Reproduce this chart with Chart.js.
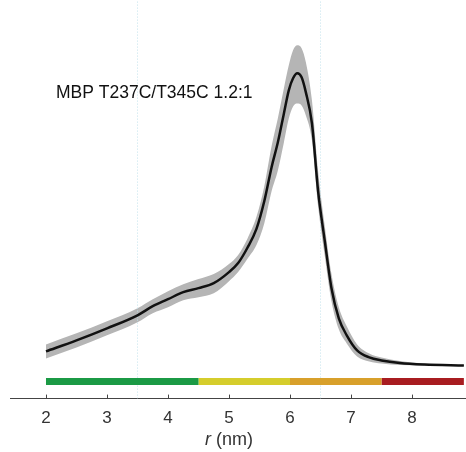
<!DOCTYPE html>
<html>
<head>
<meta charset="utf-8">
<script src="https://cdn.jsdelivr.net/npm/chart.js@4/dist/chart.umd.min.js"></script>
<style>
  html, body { margin: 0; padding: 0; background: #fff; }
  #wrap { width: 466px; height: 452px; }
</style>
</head>
<body>
<div id="wrap"><canvas id="dist" width="466" height="452"></canvas></div>
<script>
// distance distribution (arbitrary units)
var rValues = [2.0, 2.5, 3.0, 3.5, 3.75, 4.0, 4.25, 4.5, 4.75, 5.0,
               5.15, 5.3, 5.45, 5.58, 5.7, 5.8, 5.9, 5.98, 6.05, 6.12,
               6.19, 6.26, 6.36, 6.46, 6.57, 6.68, 6.8, 6.93, 7.1, 7.3,
               7.5, 7.8, 8.2, 8.85];
var meanValues = [47, 58, 70, 83, 92, 99, 106, 110, 115, 126,
                  135, 150, 169, 197, 231, 255, 284, 307, 319, 324,
                  320, 305, 274, 207, 157, 110, 80, 63, 48, 41,
                  38, 35.5, 34, 33];
var upperValues = [54, 65, 77, 90, 99, 107, 114, 119, 124, 134,
                   143, 159, 181, 212, 252, 279, 309, 332, 347, 352,
                   349, 335, 297, 227, 172, 124, 91, 72, 54, 45,
                   41, 37.5, 35, 33.5];
var lowerValues = [40, 51, 63, 76, 85, 91, 98, 101, 105, 117,
                   126, 139, 153, 175, 207, 227, 255, 279, 291, 294,
                   292, 282, 257, 192, 142, 97, 69, 55, 42, 37,
                   35, 33.5, 33, 32.5];

// reliability ranges shown as the coloured bar
var barEdges = [2, 4.5, 6, 7.5, 8.85];
var barColors = ['#1b9a45', '#d5cd2c', '#d8a02b', '#a81c20'];
var barLevel = 17;

var markerR = [3.5, 6.5];
var tickValues = [2, 3, 4, 5, 6, 7, 8];
var label = 'MBP T237C/T345C 1.2:1';

var yTop = 397;

function pts(ys) {
  return rValues.map(function (r, i) { return {x: r, y: ys[i]}; });
}

var datasets = [];

datasets.push({
  data: pts(meanValues),
  borderColor: '#111',
  borderWidth: 2.5,
  pointRadius: 0,
  cubicInterpolationMode: 'monotone',
  fill: false,
  order: 0
});

for (var i = 0; i < barColors.length; i++) {
  datasets.push({
    data: [{x: barEdges[i], y: barLevel}, {x: barEdges[i + 1], y: barLevel}],
    borderColor: barColors[i],
    borderWidth: 7,
    borderCapStyle: 'butt',
    pointRadius: 0,
    fill: false,
    order: 1
  });
}

markerR.forEach(function (r) {
  datasets.push({
    data: [{x: r, y: 0}, {x: r, y: yTop}],
    borderColor: '#c2e2ec',
    borderWidth: 1,
    borderDash: [1, 2],
    pointRadius: 0,
    fill: false,
    order: 2
  });
});

// confidence band
datasets.push({
  data: pts(upperValues),
  borderWidth: 0,
  borderColor: 'rgba(0,0,0,0)',
  backgroundColor: '#b5b5b5',
  pointRadius: 0,
  cubicInterpolationMode: 'monotone',
  fill: '+1',
  order: 3
});
datasets.push({
  data: pts(lowerValues),
  borderWidth: 0,
  borderColor: 'rgba(0,0,0,0)',
  pointRadius: 0,
  cubicInterpolationMode: 'monotone',
  fill: false,
  order: 4
});

var extras = {
  id: 'extras',
  afterDraw: function (chart) {
    var ctx = chart.ctx;
    var xs = chart.scales.x;
    var bottom = chart.chartArea.bottom;
    ctx.save();
    // ticks pointing up from the axis
    ctx.strokeStyle = '#444';
    ctx.lineWidth = 1;
    tickValues.forEach(function (v) {
      var px = Math.round(xs.getPixelForValue(v)) + 0.5;
      ctx.beginPath();
      ctx.moveTo(px, bottom);
      ctx.lineTo(px, bottom - 4);
      ctx.stroke();
    });
    // axis title with italic r
    ctx.fillStyle = '#333';
    ctx.textBaseline = 'alphabetic';
    var f1 = 'italic 18px "Liberation Sans", Arial, sans-serif';
    var f2 = '18px "Liberation Sans", Arial, sans-serif';
    ctx.font = f1;
    var w1 = ctx.measureText('r').width;
    ctx.font = f2;
    var w2 = ctx.measureText(' (nm)').width;
    var cx = xs.getPixelForValue(5);
    var x0 = cx - (w1 + w2) / 2;
    ctx.font = f1;
    ctx.fillText('r', x0, 445);
    ctx.font = f2;
    ctx.fillText(' (nm)', x0 + w1, 445);
    // sample label
    ctx.fillStyle = '#111';
    ctx.font = '17.5px "Liberation Sans", Arial, sans-serif';
    ctx.fillText(label, 56, 98);
    ctx.restore();
  }
};

new Chart(document.getElementById('dist'), {
  type: 'line',
  data: {datasets: datasets},
  plugins: [extras],
  options: {
    responsive: false,
    animation: false,
    events: [],
    layout: {padding: {left: 10, right: 0, top: 0, bottom: 13}},
    plugins: {
      legend: {display: false},
      tooltip: {enabled: false},
      title: {display: false}
    },
    scales: {
      x: {
        type: 'linear',
        min: 1.41,
        max: 8.885,
        afterBuildTicks: function (scale) {
          scale.ticks = tickValues.map(function (v) { return {value: v}; });
        },
        grid: {display: false, drawTicks: false},
        border: {display: true, color: '#444', width: 1},
        ticks: {
          padding: 10,
          color: '#333',
          font: {family: '"Liberation Sans", Arial, sans-serif', size: 17},
          maxRotation: 0,
          autoSkip: false
        }
      },
      y: {
        type: 'linear',
        display: false,
        min: 0,
        max: yTop
      }
    }
  }
});
</script>
</body>
</html>
